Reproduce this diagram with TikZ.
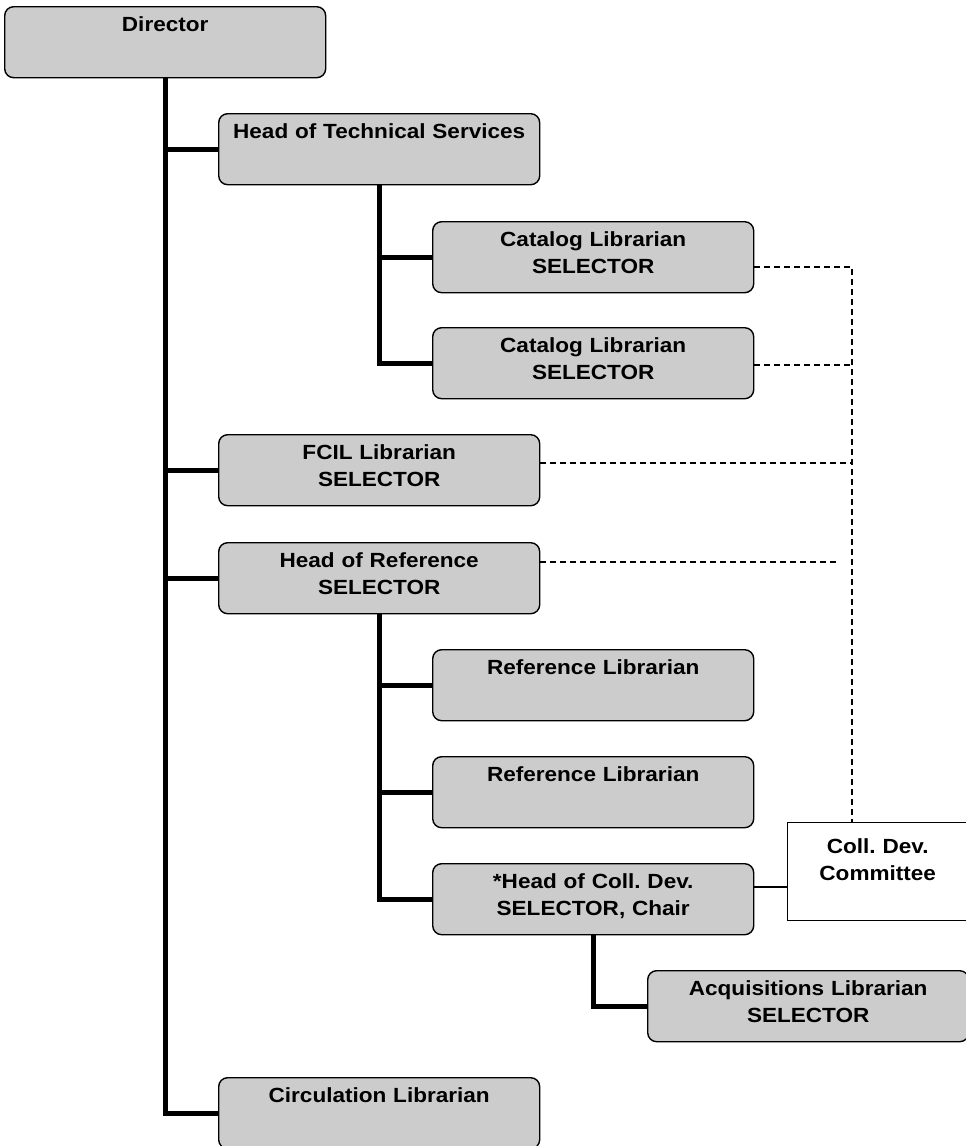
\documentclass[tikz,border=0pt]{standalone}
\usepackage{fontspec}
\setmainfont{Liberation Sans}[FakeStretch=1.1]
\definecolor{boxgray}{RGB}{204,204,204}
\frenchspacing
\begin{document}
\begin{tikzpicture}[x=1pt, y=-1pt,
  unit/.style={draw=black, line width=1.4pt, fill=boxgray, rounded corners=9pt,
    anchor=north west, inner sep=0pt, text width=321pt, align=center,
    text height=25pt, text depth=46pt,
    font=\bfseries\fontsize{20.5}{27}\selectfont},
  committee/.style={unit, fill=white, rounded corners=0pt, text width=180pt,
    text height=31pt, text depth=67pt},
  chain/.style={line width=5pt},
  selector/.style={line width=1.2pt, dash pattern=on 6pt off 4pt},
  liaison/.style={line width=1.3pt}]
\clip (0,0) rectangle (966,1146);
\fill[white] (0,0) rectangle (966,1146);

% units of the library
\node[unit] (dir)  at (4,6)     {Director};
\node[unit] (tech) at (218,113) {Head of Technical Services};
\node[unit] (cat1) at (432,221) {Catalog Librarian\\SELECTOR};
\node[unit] (cat2) at (432,327) {Catalog Librarian\\SELECTOR};
\node[unit] (fcil) at (218,434) {FCIL Librarian\\SELECTOR};
\node[unit] (href) at (218,542) {Head of Reference\\SELECTOR};
\node[unit] (ref1) at (432,649) {Reference Librarian};
\node[unit] (ref2) at (432,756) {Reference Librarian};
\node[unit] (hcd)  at (432,863) {*Head of Coll. Dev.\\SELECTOR, Chair};
\node[unit] (acq)  at (647,970) {Acquisitions Librarian\\SELECTOR};
\node[unit] (circ) at (218,1077) {Circulation Librarian};
\node[committee] (cdc) at (787,822) {Coll. Dev.\\Committee};

% reporting lines
\draw[chain] (dir.south) |- (circ.west);
\draw[chain] (dir.south |- tech.west) -- (tech.west);
\draw[chain] (dir.south |- fcil.west) -- (fcil.west);
\draw[chain] (dir.south |- href.west) -- (href.west);
\draw[chain] (tech.south) |- (cat2.west);
\draw[chain] (tech.south |- cat1.west) -- (cat1.west);
\draw[chain] (href.south) |- (hcd.west);
\draw[chain] (href.south |- ref1.west) -- (ref1.west);
\draw[chain] (href.south |- ref2.west) -- (ref2.west);
\draw[chain] (hcd.south) |- (acq.west);

% selectors feeding the committee
\coordinate (s1) at (852,267);
\coordinate (s2) at (852,365);
\coordinate (s3) at (852,463);
\coordinate (s4) at (837,562);
\draw[selector] (cat1.east |- s1) -- (s1) -- (s1 |- cdc.north);
\draw[selector] (cat2.east |- s2) -- (s2);
\draw[selector] (fcil.east |- s3) -- (s3);
\draw[selector] (href.east |- s4) -- (s4);

% chair of the committee
\coordinate (c) at (770,887);
\draw[liaison] (hcd.east |- c) -- (cdc.west |- c);
\end{tikzpicture}
\end{document}
